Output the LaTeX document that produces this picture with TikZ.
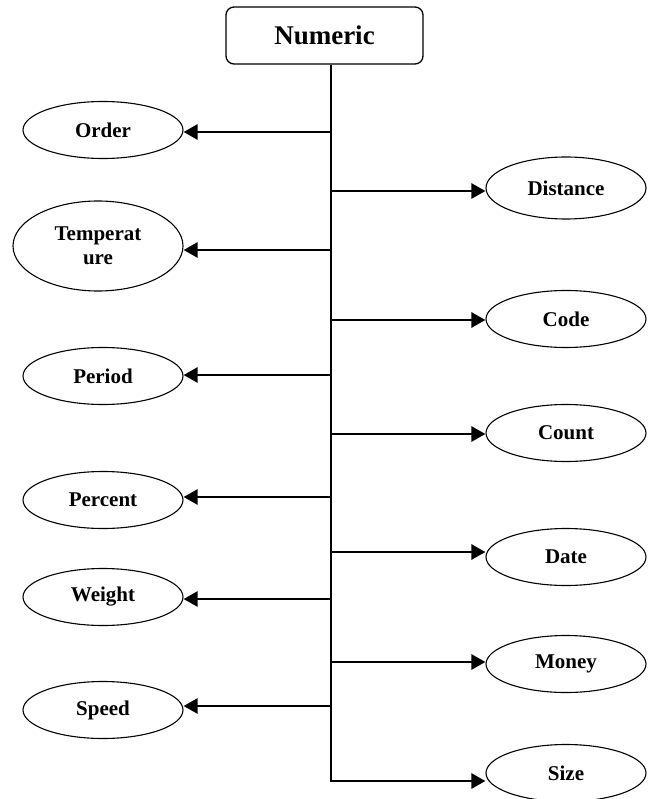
\documentclass[tikz,border=0pt]{standalone}
\usepackage{fontspec}
\setmainfont{Liberation Serif}
\usetikzlibrary{shapes.geometric,arrows.meta}
\begin{document}
\begin{tikzpicture}[x=1pt,y=-1pt,
	rootbox/.style={draw, line width=1.3pt, rounded corners=8pt, minimum width=197pt, minimum height=57pt, inner sep=0pt, font=\fontsize{27}{30}\selectfont\bfseries},
	leaf/.style={draw, ellipse, line width=1.1pt, minimum width=160pt, minimum height=57pt, inner sep=0pt, align=center, font=\fontsize{21}{24}\selectfont\bfseries},
	branch/.style={line width=2.5pt, -{Triangle[length=14pt,width=15pt]}},
	trunk/.style={line width=1.6pt}]
\useasboundingbox (0,0) rectangle (650,799);
% root
\node[rootbox] (numeric) at (324.5,35.5) {Numeric};
% left column
\node[leaf] (order) at (103,130) {Order};
\node[leaf, minimum width=170pt, minimum height=90pt] (temperature) at (98,246) {Temperat\\ure};
\node[leaf] (period) at (103,376) {Period};
\node[leaf] (percent) at (103,500) {Percent};
\node[leaf] (weight) at (103,597) {Weight};
\node[leaf] (speed) at (103,710) {Speed};
% right column
\node[leaf, minimum height=62pt] (distance) at (566,188) {Distance};
\node[leaf] (code) at (566,319) {Code};
\node[leaf] (count) at (566,433) {Count};
\node[leaf] (date) at (566,557) {Date};
\node[leaf] (money) at (566,664) {Money};
\node[leaf] (size) at (566,773) {Size};

% vertical trunk
\coordinate (tbot) at (331,782);
\draw[trunk] (numeric.south -| tbot) -- (tbot);

% branches
\foreach \leafname/\ty in {order/132, temperature/250, period/375, percent/497, weight/599, speed/706}
	\draw[branch] (331,\ty) coordinate (t-\leafname) -- (t-\leafname -| \leafname.east);
\foreach \leafname/\ty in {distance/191, code/320, count/434, date/552, money/662, size/781}
	\draw[branch] (330,\ty) coordinate (t-\leafname) -- (t-\leafname -| \leafname.west);

\end{tikzpicture}
\end{document}
